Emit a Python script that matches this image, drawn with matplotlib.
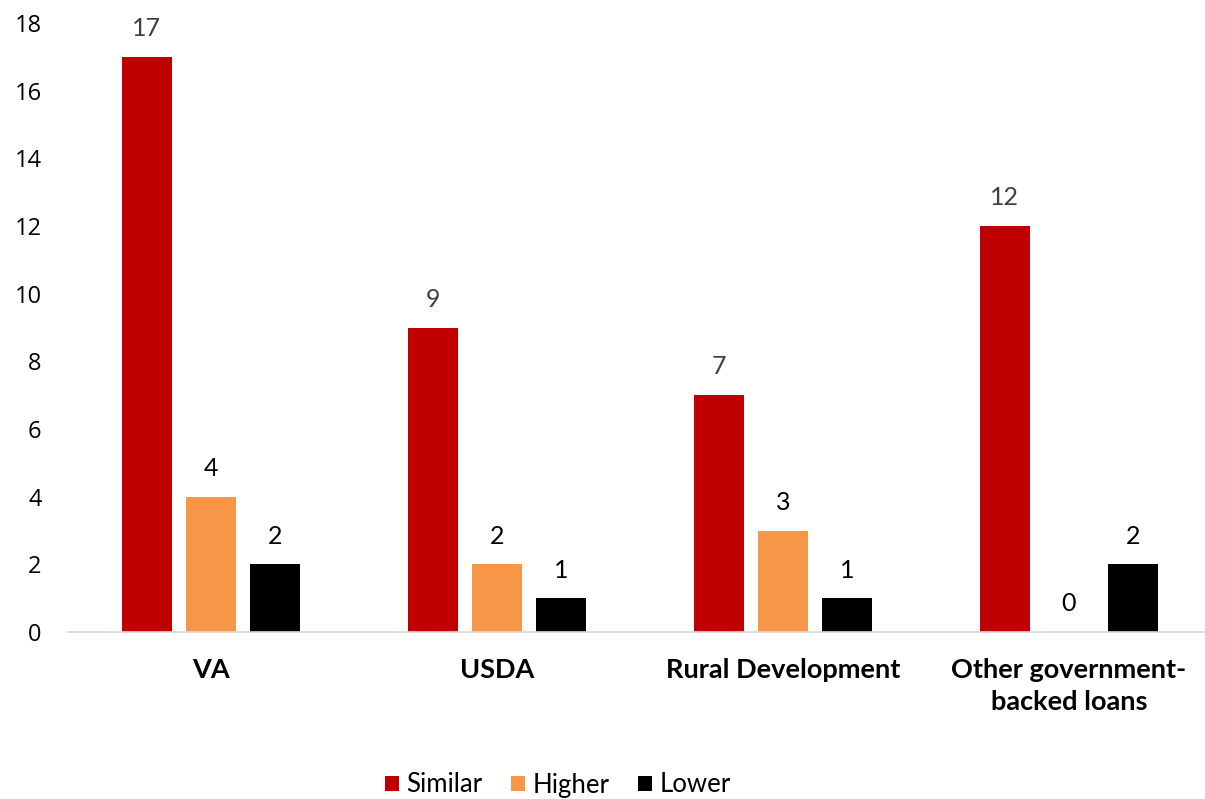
import numpy as np
import matplotlib.pyplot as plt

categories = ['VA', 'USDA', 'Rural Development', 'Other government-\nbacked loans']
similar = [17, 9, 7, 12]
higher = [4, 2, 3, 0]
lower = [2, 1, 1, 2]
series_names = ['Similar', 'Higher', 'Lower']
yticks = [0, 2, 4, 6, 8, 10, 12, 14, 16, 18]

colors = ['#C00000', '#F79646', '#000000']
label_colors = ['#404040', '#000000', '#000000']

fig = plt.figure(figsize=(12.05, 7.99), dpi=100)
ax = fig.add_axes([68/1205, 167/799, (1212-68)/1205, 609/799])

x = np.arange(len(categories))
w = 0.175
step = 0.224
data = [similar, higher, lower]
for i in range(3):
    pos = x + (i - 1) * step
    bars = ax.bar(pos, data[i], width=w, color=colors[i], label=series_names[i])
    for xp, v in zip(pos, data[i]):
        ax.annotate(str(v), (xp, v), xytext=(0, 12), textcoords='offset points',
                    ha='center', va='bottom', fontsize=18, color=label_colors[i],
                    family='Lato')

ax.set_xlim(-0.5, 3.5)
ax.set_ylim(0, 18)
ax.set_yticks(yticks)
ax.set_yticklabels([str(t) for t in yticks], family='Open Sans', fontsize=17)
ax.tick_params(axis='y', length=0, pad=19)
ax.set_xticks(x)
ax.set_xticklabels(categories, fontsize=19.5, fontweight='bold', family='Lato',
                   linespacing=1.4)
ax.tick_params(axis='x', length=0, pad=19)
for s in ['top', 'right', 'left']:
    ax.spines[s].set_visible(False)
ax.spines['bottom'].set_color('#D9D9D9')
ax.spines['bottom'].set_linewidth(1.2)

ax.legend(loc='center', bbox_to_anchor=(558/1205, 1 - 785/799), bbox_transform=fig.transFigure,
          ncol=3, frameon=False, prop={'family': 'Lato', 'size': 18.5},
          handlelength=0.55, handleheight=0.55, handletextpad=0.3, columnspacing=1.1)

fig.savefig('out.png', dpi=100)
